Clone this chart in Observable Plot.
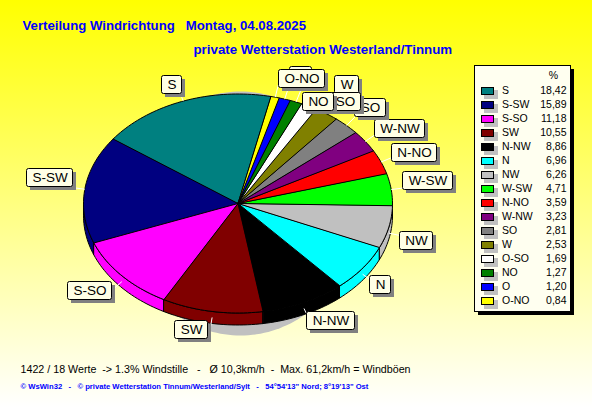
<!DOCTYPE html>
<html><head><meta charset="utf-8">
<script src="https://cdn.jsdelivr.net/npm/d3@7"></script>
<script src="https://cdn.jsdelivr.net/npm/@observablehq/plot@0.6"></script>
<style>html,body{margin:0;padding:0;background:#fff}svg{display:block}</style>
</head><body><div id="chart"></div>
<script>
// data
const directions = ["S","S-SW","S-SO","SW","N-NW","N","NW","W-SW","N-NO","W-NW","SO","W","O-SO","NO","O","O-NO"];
const percents = [18.42,15.89,11.18,10.55,8.86,6.96,6.26,4.71,3.59,3.23,2.81,2.53,1.69,1.27,1.20,0.84];
const percentLabels = ["18,42","15,89","11,18","10,55","8,86","6,96","6,26","4,71","3,59","3,23","2,81","2,53","1,69","1,27","1,20","0,84"];
const sliceColors = ["#008080","#000080","#ff00ff","#800000","#000000","#00ffff","#c0c0c0","#00ff00","#ff0000","#800080","#808080","#808000","#ffffff","#008000","#0000ff","#ffff00"];
const titleLine1 = "Verteilung Windrichtung   Montag, 04.08.2025";
const titleLine2 = "private Wetterstation Westerland/Tinnum";
const statsLine = "1422 / 18 Werte  -> 1.3% Windstille   -   Ø 10,3km/h  -  Max. 61,2km/h = Windböen";
const creditLine = "© WsWin32   -   © private Wetterstation Tinnum/Westerland/Sylt   -   54°54'13\" Nord; 8°19'13\" Ost";

// layout
const W = 592, H = 407;
const cx = 237.5, cy = 203, rx = 154.5, ry = 109.5, depth = 12, startDeg = 77.6;
// label box centre relative to the slice's rim point
const labelOffsets = [[-12,-17],[-35,-12],[-32,9],[-21,12],[26,12],[17,10],[27,7],[36,-9],[33,-10],[34,-13],[24,-18],[20,-29],[28,-5],[22,-1],[16,-24],[26,-19]];

const rad = d => d * Math.PI / 180;
const rim = (deg, dy = 0) => [cx + rx * Math.cos(rad(deg)), cy - ry * Math.sin(rad(deg)) + dy];
let acc = startDeg;
const slices = directions.map((name, i) => {
  const a0 = acc, a1 = acc + percents[i] * 3.6; acc = a1;
  return {name, i, a0, a1, mid: (a0 + a1) / 2, color: sliceColors[i]};
});
const arc = (a0, a1, dy = 0) => {
  const n = Math.max(2, Math.ceil((a1 - a0) / 1.5));
  return d3.range(n + 1).map(k => rim(a0 + (a1 - a0) * k / n, dy));
};
const topPts = slices.flatMap(s => [[cx, cy], ...arc(s.a0, s.a1)].map(p => ({x: p[0], y: p[1], key: s.name, color: s.color})));
const sidePts = slices.flatMap(s => {
  const a0 = Math.max(s.a0, 180), a1 = Math.min(s.a1, 360);
  if (a1 <= a0) return [];
  return [...arc(a0, a1), ...arc(a0, a1, depth).reverse()].map(p => ({x: p[0], y: p[1], key: s.name, color: s.color}));
});
// soft gray shadow ellipse behind the pie
const shadowPts = d3.range(0, 360, 2).map(a => ({x: 240 + 115 * Math.cos(rad(a)), y: 213 - 122 * Math.sin(rad(a))}));
const ctx = document.createElement("canvas").getContext("2d");
ctx.font = "13.5px 'Liberation Sans'";
const snap = v => Math.round(v) + 0.5;
const labels = slices.map((s, i) => {
  const below = Math.sin(rad(s.mid)) < 0;
  const p = rim(s.mid, below ? depth * 0.5 : 0);
  const o = labelOffsets[i];
  const w = Math.round(ctx.measureText(s.name).width) + 11, h = 18;
  const x = p[0] + o[0], y = p[1] + o[1];
  // leader runs radially from the rim until it reaches the label box
  const ux = Math.cos(rad(s.mid)), uy = -Math.sin(rad(s.mid));
  let t = 0;
  while (t < 40 && !(Math.abs(p[0] + ux * t - x) < w / 2 && Math.abs(p[1] + uy * t - y) < h / 2)) t += 1;
  if (t >= 40) t = 12;
  const left = snap(x - w / 2), top = snap(y - h / 2);
  return {name: s.name, px: p[0], py: p[1], ex: p[0] + ux * t, ey: p[1] + uy * t, x: left + w / 2, y: top + h / 2, left, top, w, h};
});
// legend layout
const lgX = 474.5, lgY = 65.5, lgW = 96, lgH = 246, rowY0 = 90.5, rowH = 14;
const legend = directions.map((name, i) => ({name, v: percentLabels[i], color: sliceColors[i], y: rowY0 + i * rowH}));

const txt = {fontFamily: "'Liberation Sans', Arial, sans-serif"};
const labelMarks = labels.flatMap(l => [
  Plot.rect([l], {x1: d => d.left + 3.5, x2: d => d.left + d.w + 3.5, y1: d => d.top + 3.5, y2: d => d.top + d.h + 3.5, fill: "#808080"}),
  Plot.rect([l], {x1: d => d.left, x2: d => d.left + d.w, y1: d => d.top, y2: d => d.top + d.h, fill: "#ffffe6", stroke: "#000", strokeWidth: 1, r: 2}),
  Plot.text([l], {x: "x", y: "y", text: "name", fontSize: 13.5, fill: "#000", ...txt})
]);

const plot = Plot.plot({
  width: W, height: H, margin: 0,
  x: {domain: [0, W], range: [0, W], axis: null},
  y: {domain: [0, H], range: [0, H], axis: null},
  color: {type: "identity"},
  style: {background: "none", overflow: "visible"},
  marks: [
    Plot.line(shadowPts, {x: "x", y: "y", curve: "linear-closed", fill: "#c0c0c0", stroke: "none"}),
    Plot.line(sidePts, {x: "x", y: "y", z: "key", curve: "linear-closed", fill: "color", stroke: "#000", strokeWidth: 1}),
    Plot.line(topPts, {x: "x", y: "y", z: "key", curve: "linear-closed", fill: "color", stroke: "#000", strokeWidth: 1}),
    Plot.link(labels, {x1: "px", y1: "py", x2: "ex", y2: "ey", stroke: "#fff", strokeWidth: 1}),
    ...labelMarks,
    // legend
    Plot.rect([{}], {x1: lgX + 3.5, x2: lgX + lgW + 3.5, y1: lgY + 3.5, y2: lgY + lgH + 3.5, fill: "#000"}),
    Plot.rect([{}], {x1: lgX, x2: lgX + lgW, y1: lgY, y2: lgY + lgH, fill: "#fffff0", stroke: "#000", strokeWidth: 1}),
    Plot.rect(legend, {x1: 484, x2: 498, y1: d => d.y - 0.5, y2: d => d.y + 8.5, fill: "#c0c0c0"}),
    Plot.rect(legend, {x1: 481.5, x2: 493.5, y1: d => d.y - 3, y2: d => d.y + 4, fill: "color", stroke: "#000", strokeWidth: 1}),
    Plot.text(legend, {x: 501.5, y: "y", text: "name", textAnchor: "start", fontSize: 10.5, fill: "#000", ...txt}),
    Plot.text(legend, {x: 566, y: "y", text: "v", textAnchor: "end", fontSize: 10.5, fill: "#000", ...txt}),
    Plot.text(["%"], {x: 553, y: 75, text: d => d, fontSize: 10.5, fill: "#000", ...txt}),
    // titles
    Plot.text([titleLine1], {x: 22, y: 25, text: d => d, textAnchor: "start", fontSize: 13.2, fontWeight: "bold", fill: "#0000ff", ...txt}),
    Plot.text([titleLine2], {x: 193, y: 49, text: d => d, textAnchor: "start", fontSize: 13.3, fontWeight: "bold", fill: "#0000ff", ...txt}),
    Plot.text([statsLine], {x: 20, y: 369, text: d => d, textAnchor: "start", fontSize: 10.7, fill: "#000", ...txt}),
    Plot.text([creditLine], {x: 20, y: 386, text: d => d, textAnchor: "start", fontSize: 7.65, fontWeight: "bold", fill: "#0000ff", ...txt})
  ]
});
plot.style.background = "linear-gradient(to bottom, #ffff00 0%, #ffffff 100%)";
plot.querySelectorAll("text, tspan").forEach(t => t.style.whiteSpace = "pre");
document.getElementById("chart").append(plot);
</script></body></html>
